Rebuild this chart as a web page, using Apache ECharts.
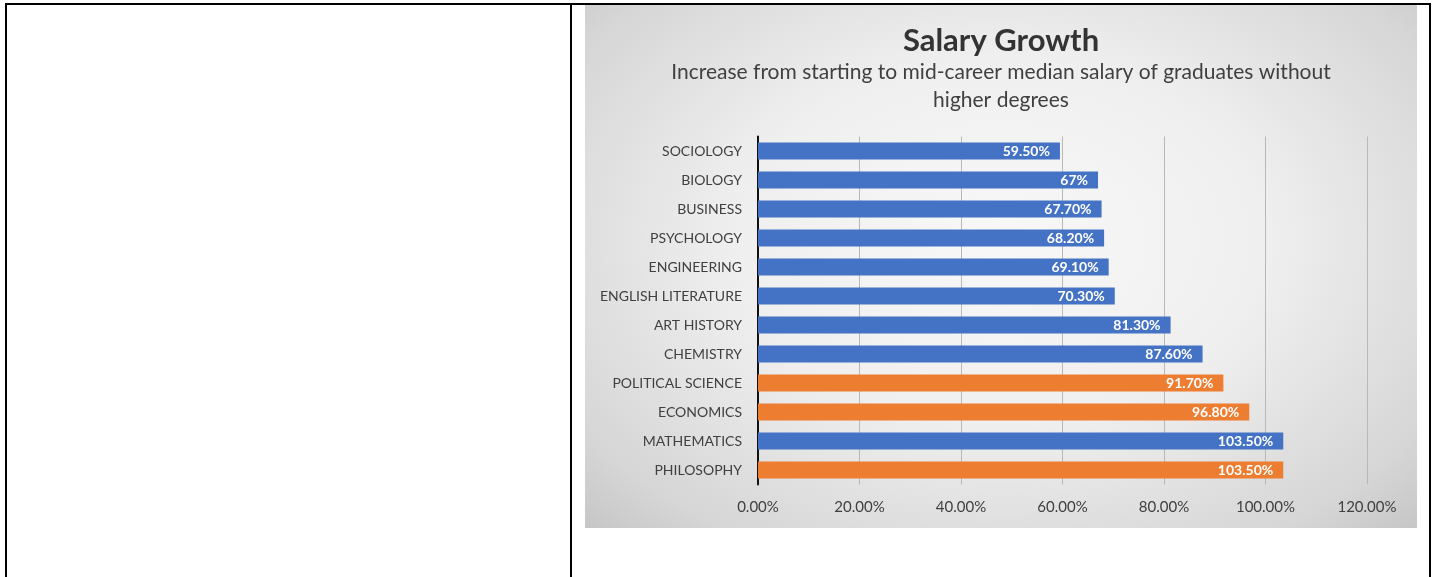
<!DOCTYPE html>
<html>
<head>
<meta charset="utf-8">
<script src="https://cdn.jsdelivr.net/npm/echarts@6/dist/echarts.min.js"></script>
<style>
	html, body { margin: 0; padding: 0; background: #fff; }
	body { width: 1433px; height: 577px; position: relative; overflow: hidden; }
	/* table cells round the picture */
	#frame { position: absolute; left: 5px; top: 3px; width: 1426px; height: 600px;
		border: 2px solid #000; border-bottom: none; box-sizing: border-box; }
	#divider { position: absolute; left: 570px; top: 3px; width: 2px; height: 600px; background: #000; }
	#chart { position: absolute; left: 585px; top: 5px; width: 832px; height: 523px;
		background: radial-gradient(ellipse at 50% 45%, #f8f8f8 0%, #efefef 45%, #d6d6d6 85%, #c6c6c6 100%); }
</style>
</head>
<body>
<div id="frame"></div>
<div id="divider"></div>
<div id="chart"></div>
<script>
	var categories = ['SOCIOLOGY', 'BIOLOGY', 'BUSINESS', 'PSYCHOLOGY', 'ENGINEERING', 'ENGLISH LITERATURE',
		'ART HISTORY', 'CHEMISTRY', 'POLITICAL SCIENCE', 'ECONOMICS', 'MATHEMATICS', 'PHILOSOPHY'];
	var growth = [59.5, 67, 67.7, 68.2, 69.1, 70.3, 81.3, 87.6, 91.7, 96.8, 103.5, 103.5];
	var valueLabels = ['59.50%', '67%', '67.70%', '68.20%', '69.10%', '70.30%', '81.30%', '87.60%',
		'91.70%', '96.80%', '103.50%', '103.50%'];
	var highlighted = ['POLITICAL SCIENCE', 'ECONOMICS', 'PHILOSOPHY'];

	var blue = '#4472C4';
	var orange = '#ED7D31';
	var font = 'Lato, "Open Sans", sans-serif';

	var chart = echarts.init(document.getElementById('chart'));

	var option = {
		backgroundColor: 'transparent',
		animation: false,
		graphic: [{
			type: 'text',
			left: 'center',
			top: 20,
			style: {
				text: 'Salary Growth',
				fontFamily: font, fontSize: 31, fontWeight: 'bold', fill: '#333'
			}
		}, {
			type: 'text',
			x: 416,
			y: 53,
			style: {
				text: 'Increase from starting to mid-career median salary of graduates without\nhigher degrees',
				textAlign: 'center',
				fontFamily: font, fontSize: 21, fill: '#404040', lineHeight: 28
			}
		}],
		grid: {
			left: 173,
			right: 50,
			top: 131.5,
			bottom: 43.5
		},
		xAxis: {
			type: 'value',
			min: 0,
			max: 120,
			interval: 20,
			axisLine: { show: false },
			axisTick: { show: false },
			splitLine: { lineStyle: { color: '#b8b8b8', width: 1 } },
			axisLabel: {
				margin: 15,
				fontFamily: font,
				fontSize: 15,
				color: '#404040',
				formatter: function(v) { return v.toFixed(2) + '%'; }
			}
		},
		yAxis: {
			type: 'category',
			inverse: true,
			data: categories,
			axisLine: { show: true, lineStyle: { color: '#111', width: 2 } },
			axisTick: { show: false },
			axisLabel: { margin: 16, fontFamily: font, fontSize: 14, color: '#404040' }
		},
		series: [{
			type: 'bar',
			barWidth: 17,
			data: growth.map(function(v, i) {
				return {
					value: v,
					itemStyle: { color: highlighted.indexOf(categories[i]) >= 0 ? orange : blue }
				};
			}),
			label: {
				show: true,
				position: 'insideRight',
				distance: 10,
				fontFamily: font,
				fontSize: 14,
				fontWeight: 'bold',
				color: '#fff',
				formatter: function(p) { return valueLabels[p.dataIndex]; }
			}
		}]
	};

	chart.setOption(option);
</script>
</body>
</html>
